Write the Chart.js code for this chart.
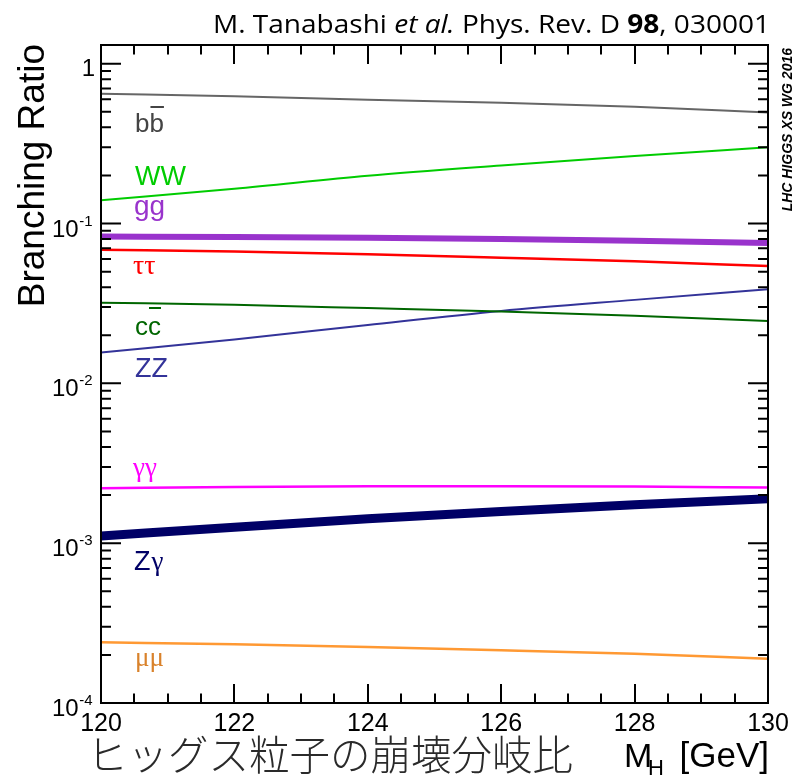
<!DOCTYPE html>
<html>
<head>
<meta charset="utf-8">
<script src="https://cdn.jsdelivr.net/npm/chart.js@4.4.1/dist/chart.umd.min.js"></script>
<style>
  html, body { margin: 0; padding: 0; background: #fff; }
  #wrap { width: 792px; height: 778px; }
</style>
</head>
<body>
<div id="wrap"><canvas id="br" width="792" height="778"></canvas></div>
<script>
// Higgs mass points (GeV) and branching ratios
const masses = [120, 122, 124, 126, 128, 130];
const brBB   = [0.650, 0.626, 0.596, 0.570, 0.538, 0.495];
const brWW   = [0.140, 0.165, 0.199, 0.231, 0.265, 0.300];
const brGG   = [0.0829, 0.0825, 0.0815, 0.0800, 0.0780, 0.0757];
const brTauTau = [0.0686, 0.0668, 0.0643, 0.0612, 0.0580, 0.0543];
const brCC   = [0.0320, 0.0310, 0.0296, 0.0282, 0.0265, 0.0246];
const brZZ   = [0.0156, 0.0188, 0.0232, 0.0284, 0.0333, 0.0388];
const brGamGam = [0.00221, 0.00225, 0.00227, 0.00227, 0.00226, 0.00223];
const brZGam = [0.00111, 0.00126, 0.00142, 0.00158, 0.00174, 0.00190];
const brMuMu = [2.40e-4, 2.33e-4, 2.24e-4, 2.14e-4, 2.03e-4, 1.89e-4];

const xTickValues = [120, 122, 124, 126, 128, 130];
const yDecades = [1e-4, 1e-3, 1e-2, 1e-1, 1];
const yDecadeExp = ['-4', '-3', '-2', '-1', ''];

const SANS = '"Liberation Sans", Arial, sans-serif';
const SERIF = '"Liberation Serif", "Times New Roman", serif';

const series = [
  { data: brBB, color: '#666666', width: 2 },
  { data: brWW, color: '#00cc00', width: 2 },
  { data: brGG, color: '#9933cc', width: 6 },
  { data: brTauTau, color: '#ff0000', width: 2.5 },
  { data: brCC, color: '#006600', width: 2 },
  { data: brZZ, color: '#333399', width: 2 },
  { data: brGamGam, color: '#ff00ff', width: 2.5 },
  { data: brZGam, color: '#000066', width: 9 },
  { data: brMuMu, color: '#ff9933', width: 2.5 },
];

const datasets = series.map(s => ({
  data: masses.map((m, i) => ({ x: m, y: s.data[i] })),
  borderColor: s.color,
  borderWidth: s.width,
  pointRadius: 0,
  cubicInterpolationMode: 'monotone',
  fill: false,
  clip: 0,
}));

function drawOverlined(ctx, text, x, y, barY) {
  ctx.fillText(text, x, y);
  const w0 = ctx.measureText(text.slice(0, -1)).width;
  const w = ctx.measureText(text).width;
  ctx.fillRect(x + w0 + 1, barY, w - w0 - 1, 2);
}

const decorations = {
  id: 'decorations',
  afterDraw(chart) {
    const { ctx, chartArea: a, scales: { x, y } } = chart;
    ctx.save();
    ctx.fillStyle = '#000';
    ctx.strokeStyle = '#000';

    // ticks (inside, all four sides)
    ctx.lineWidth = 2;
    ctx.beginPath();
    for (let m = 120; m <= 130.001; m += 0.5) {
      const px = Math.round(x.getPixelForValue(m));
      const len = Math.abs((m - 120) % 2) < 1e-6 ? 19 : 9.5;
      ctx.moveTo(px, a.bottom); ctx.lineTo(px, a.bottom - len);
      ctx.moveTo(px, a.top); ctx.lineTo(px, a.top + len);
    }
    yDecades.forEach(d => {
      for (let k = 1; k <= 9; k++) {
        const v = k * d;
        if (v > y.max || v < y.min) continue;
        const py = y.getPixelForValue(v);
        const len = k === 1 ? 20 : 10;
        ctx.moveTo(a.left, py); ctx.lineTo(a.left + len, py);
        ctx.moveTo(a.right, py); ctx.lineTo(a.right - len, py);
      }
    });
    ctx.stroke();

    // frame
    ctx.lineWidth = 2;
    ctx.strokeRect(a.left, a.top, a.right - a.left, a.bottom - a.top);

    // x tick labels
    ctx.font = '25px ' + SANS;
    ctx.textAlign = 'center';
    ctx.textBaseline = 'alphabetic';
    xTickValues.forEach(v => {
      ctx.fillText(String(v), x.getPixelForValue(v), 731);
    });

    // y tick labels
    yDecades.forEach((d, i) => {
      const py = y.getPixelForValue(d);
      if (yDecadeExp[i] === '') {
        ctx.font = '24px ' + SANS;
        ctx.textAlign = 'right';
        ctx.fillText('1', 95, py + 12);
        return;
      }
      ctx.font = '24px ' + SANS;
      const w10 = ctx.measureText('10').width;
      ctx.font = '15px ' + SANS;
      const wExp = ctx.measureText(yDecadeExp[i]).width;
      const x0 = 92 - w10 - wExp;
      ctx.textAlign = 'left';
      ctx.font = '24px ' + SANS;
      ctx.fillText('10', x0, py + 13);
      ctx.font = '15px ' + SANS;
      ctx.fillText(yDecadeExp[i], x0 + w10 + 0.5, py + 2);
    });

    // y axis title
    ctx.save();
    ctx.translate(44, 44);
    ctx.rotate(-Math.PI / 2);
    ctx.font = '37px ' + SANS;
    ctx.textAlign = 'right';
    ctx.fillText('Branching Ratio', 0, 0);
    ctx.restore();

    // x axis title
    ctx.textAlign = 'left';
    ctx.font = '300 40.5px "Noto Sans CJK JP", sans-serif';
    ctx.fillStyle = '#2a2a2a';
    ctx.fillText('ヒッグス粒子の崩壊分岐比', 87, 770);
    ctx.fillStyle = '#000';
    ctx.font = '34px ' + SANS;
    ctx.fillText('M', 624, 767);
    ctx.font = '22px ' + SANS;
    ctx.fillText('H', 648, 775);
    ctx.font = '35px ' + SANS;
    ctx.textAlign = 'right';
    ctx.fillText('[GeV]', 769, 767);

    // top reference line
    const runs = [
      ['M. Tanabashi ', ''], ['et al.', 'italic '], [' Phys. Rev. D ', ''],
      ['98', 'bold '], [', 030001', ''],
    ];
    const tFont = '26px "Open Sans", sans-serif';
    let total = 0;
    runs.forEach(r => { ctx.font = r[1] + tFont; total += ctx.measureText(r[0]).width; });
    const sx = 557 / total;
    ctx.save();
    ctx.translate(213, 33);
    ctx.scale(sx, 1);
    ctx.textAlign = 'left';
    let cx = 0;
    runs.forEach(r => {
      ctx.font = r[1] + tFont;
      ctx.fillText(r[0], cx, 0);
      cx += ctx.measureText(r[0]).width;
    });
    ctx.restore();

    // side tag
    ctx.save();
    ctx.translate(792, 48);
    ctx.rotate(-Math.PI / 2);
    ctx.font = 'italic bold 14px ' + SANS;
    ctx.textAlign = 'right';
    ctx.fillText('LHC HIGGS XS WG 2016', 0, 0);
    ctx.restore();

    // channel labels
    ctx.textAlign = 'left';
    ctx.font = '26px ' + SANS;
    ctx.fillStyle = '#444444';
    drawOverlined(ctx, 'bb', 135, 132, 106);
    ctx.font = '27px ' + SANS;
    ctx.fillStyle = '#00cc00';
    ctx.fillText('WW', 135, 185);
    ctx.font = '28px ' + SANS;
    ctx.fillStyle = '#9933cc';
    ctx.fillText('gg', 134, 215);
    ctx.font = '28px ' + SERIF;
    ctx.fillStyle = '#ff0000';
    ctx.fillText('ττ', 133, 274);
    ctx.font = '26px ' + SANS;
    ctx.fillStyle = '#006600';
    drawOverlined(ctx, 'cc', 135, 335, 307);
    ctx.font = '27px ' + SANS;
    ctx.fillStyle = '#333399';
    ctx.fillText('ZZ', 135, 377);
    ctx.font = '27px ' + SERIF;
    ctx.fillStyle = '#ff00ff';
    ctx.fillText('γγ', 133, 476);
    ctx.font = '27px ' + SANS;
    ctx.fillStyle = '#000066';
    ctx.fillText('Z', 134, 570);
    const wz = ctx.measureText('Z').width;
    ctx.font = '27px ' + SERIF;
    ctx.fillText('γ', 134 + wz + 1, 570);
    ctx.font = '27px ' + SERIF;
    ctx.fillStyle = '#d9822b';
    ctx.fillText('μμ', 135, 666);

    ctx.restore();
  }
};

new Chart(document.getElementById('br'), {
  type: 'line',
  data: { datasets },
  options: {
    responsive: false,
    animation: false,
    layout: { padding: { left: 101, right: 24, top: 45, bottom: 75 } },
    plugins: { legend: { display: false }, tooltip: { enabled: false } },
    scales: {
      x: { type: 'linear', min: 120, max: 130, display: false },
      y: { type: 'logarithmic', min: 1e-4, max: 1.31, display: false },
    },
  },
  plugins: [decorations],
});
</script>
</body>
</html>
